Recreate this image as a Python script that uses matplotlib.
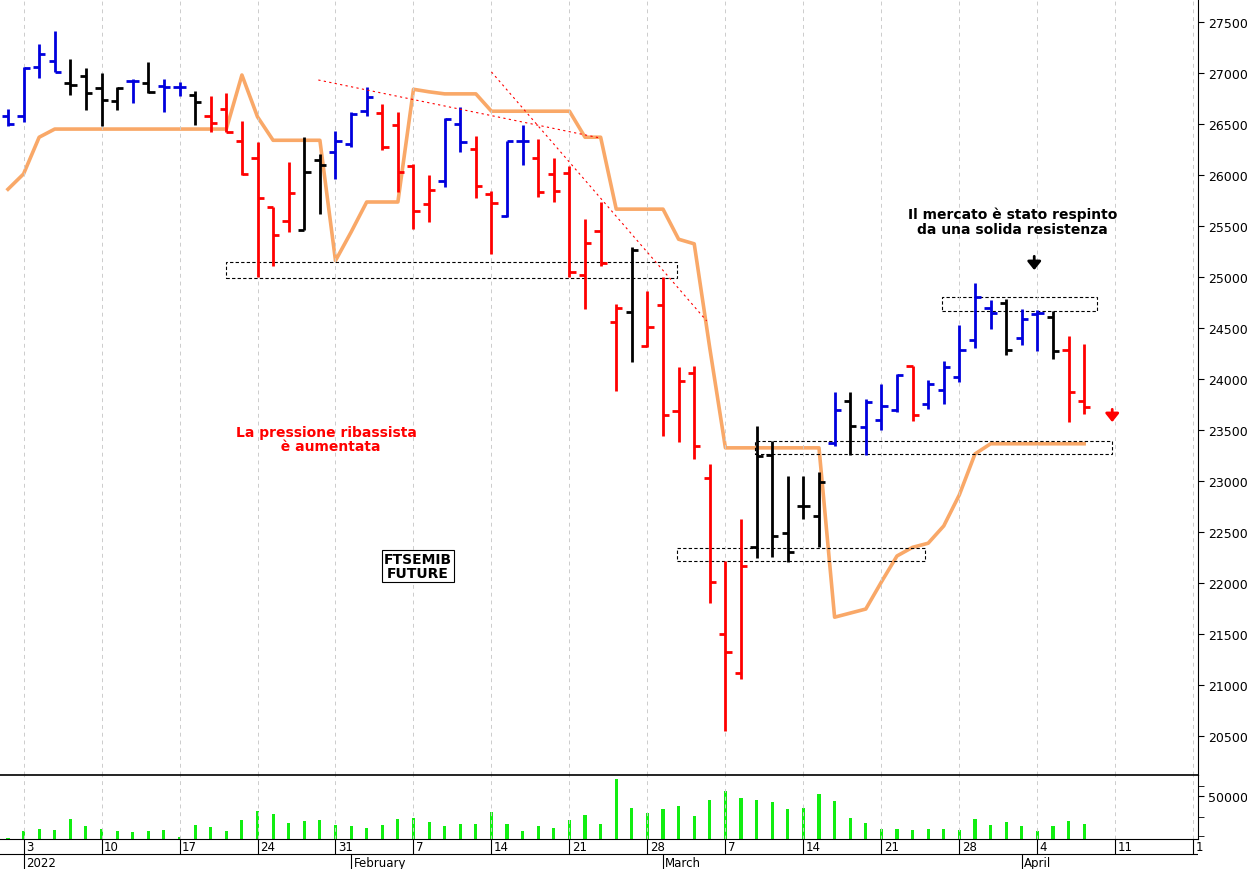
import numpy as np
import matplotlib
matplotlib.use("Agg")
from matplotlib import pyplot as plt
from matplotlib.patches import Rectangle

# OHLC per trading day, index 0 = 31 Dec 2021
opens = [26578, 26578, 27059, 27118, 26900, 26970, 26853, 26725, 26922, 26902,
         26873, 26863, 26784, 26578, 26647, 26333, 26167, 25686, 25549, 25461,
         26147, 26226, 26304, 26627, 26608, 26490, 26088, 25716, 25941, 26500,
         26255, 25814, 25598, 26333, 26167, 26010, 26020, 25020, 25451, 24559,
         24657, 24324, 24725, 23686, 24059, 23029, 21500, 21118, 22353, 23255,
         22490, 22755, 22657, 23373, 23784, 23529, 23598, 23696, 24127, 23755,
         23892, 24020, 24382, 24696, 24745, 24402, 24637, 24608, 24284, 23784]
highs = [26647, 27059, 27284, 27412, 27137, 27049, 27000, 26863, 26941, 27108,
         26941, 26912, 26824, 26775, 26804, 26529, 26323, 25686, 26128, 26373,
         26206, 26431, 26618, 26863, 26696, 26618, 26108, 26000, 26559, 26667,
         26382, 25843, 26333, 26490, 26353, 26167, 26088, 25569, 25735, 24735,
         25294, 24863, 25000, 24118, 24127, 23167, 22216, 22627, 23539, 23392,
         23049, 23049, 23088, 23873, 23873, 23804, 23951, 24049, 24127, 23990,
         24176, 24529, 24941, 24775, 24784, 24686, 24676, 24667, 24422, 24343]
lows = [26480, 26520, 26951, 27010, 26784, 26637, 26480, 26637, 26706, 26804,
        26618, 26775, 26490, 26422, 26422, 26000, 25000, 25108, 25441, 25461,
        25618, 25961, 26275, 26578, 26245, 25833, 25471, 25539, 25882, 26226,
        25775, 25225, 25588, 26098, 25784, 25735, 25000, 24686, 25108, 23882,
        24167, 24314, 23441, 23382, 23216, 21804, 20549, 21059, 22245, 22255,
        22206, 22627, 22353, 23343, 23255, 23255, 23500, 23676, 23588, 23706,
        23755, 23971, 24304, 24490, 24235, 24333, 24275, 24196, 23578, 23657]
closes = [26500, 27050, 27186, 27010, 26880, 26804, 26735, 26853, 26922, 26814,
          26863, 26863, 26716, 26510, 26422, 26010, 25775, 25412, 25824, 26030,
          26098, 26333, 26598, 26765, 26275, 26030, 25647, 25853, 26549, 26324,
          25892, 25726, 26333, 26333, 25833, 25843, 25049, 25333, 25137, 24696,
          25265, 24510, 23647, 23980, 23343, 22010, 21327, 22167, 23245, 22461,
          22304, 22755, 22990, 23696, 23539, 23775, 23735, 24039, 23647, 23951,
          24118, 24284, 24804, 24647, 24284, 24588, 24647, 24275, 23873, 23725]
bar_colors = list("bbbbkkkkbkbbkrrrrrrkkbbbrrrrbbrrbbrrrrrrkrrrrrrrkkkkkbkbbbrbbbbbkbbkrr")

stop_line = ([25860, 26010, 26370] + [26450] * 12 + [26980, 26570] + [26340] * 4 +
             [25160, 25440] + [25735] * 3 + [26840, 26815] + [26795] * 3 + [26625] * 6 +
             [26370, 26370] + [25665] * 4 + [25370, 25325, 24300] + [23325] * 7 +
             [21665, 21705, 21745, 22010, 22265, 22350, 22390, 22560, 22865, 23265] + [23365] * 7)

volume = [1200, 9300, 11600, 10500, 23300, 15100, 11600, 9300, 8100, 9300,
          10500, 2300, 16300, 14000, 9300, 22100, 32600, 29100, 18600, 20900,
          22100, 16300, 15100, 12800, 16300, 23300, 24400, 19800, 15100, 17400,
          17400, 31400, 17400, 9300, 15100, 12800, 22100, 27900, 17400, 69800,
          36000, 30200, 34900, 38400, 26700, 45300, 55800, 47700, 45300, 43000,
          34900, 36000, 52300, 44200, 24400, 18600, 11600, 11600, 10500, 11600,
          11600, 10500, 23300, 16300, 19800, 15100, 9300, 15100, 20900, 17400]

week_pos = [1, 6, 11, 16, 21, 26, 31, 36, 41, 46, 51, 56, 61, 66, 71, 76]
week_labels = ["3", "10", "17", "24", "31", "7", "14", "21", "28", "7", "14", "21", "28", "4", "11", "1"]
month_pos = [1, 22, 42, 65]
month_labels = ["2022", "February", "March", "April"]

# dashed boxes: (x0, x1, low, high)
boxes = [(13.97, 42.9, 24990, 25147), (59.9, 69.8, 24667, 24804),
         (47.9, 70.8, 23265, 23392), (42.9, 58.8, 22216, 22343)]
# red dotted trend lines
trends = [((19.9, 37.95), (26931, 26363)), ((31.0, 44.8), (27010, 24569))]

cmap = {"b": "#0000dd", "k": "black", "r": "#ff0000"}
W, H = 1247, 870
fig = plt.figure(figsize=(W / 100, H / 100), dpi=100)
xl = (-0.51, 76.3)
right = 1198 / W

ax = fig.add_axes([0, 1 - 776 / H, right, 776 / H])
axv = fig.add_axes([0, 1 - 840 / H, right, 64 / H])
axd = fig.add_axes([0, 0, right, 30 / H])

x = np.arange(len(opens))
for i in x:
    c = cmap[bar_colors[i]]
    ax.vlines(i, lows[i], highs[i], color=c, lw=2.0)
    ax.hlines(opens[i], i - 0.4, i, color=c, lw=2.0)
    ax.hlines(closes[i], i, i + 0.4, color=c, lw=2.0)
ax.plot(x, stop_line, color="#f9a868", lw=2.6, zorder=1)

for x0, x1, lo, hi in boxes:
    ax.add_patch(Rectangle((x0, lo), x1 - x0, hi - lo, fill=False, ls=(0, (3, 2)), lw=0.8, ec="black"))
for xs, ys in trends:
    ax.plot(xs, ys, color="red", ls=(0, (2, 3)), lw=0.8)

ax.set_xlim(*xl)
ax.set_ylim(20118, 27725)
ax.yaxis.tick_right()
ax.set_yticks(np.arange(20500, 27501, 500))
ax.tick_params(axis="y", labelsize=9, length=4, pad=3)
ax.set_xticks(week_pos)
ax.tick_params(axis="x", length=0, labelbottom=False)
ax.grid(axis="x", color="#cccccc", ls=(0, (4, 4)), lw=0.7)
for s in ["top", "left"]:
    ax.spines[s].set_visible(False)

ax.text(64.4, 25550, "Il mercato è stato respinto\nda una solida resistenza", ha="center", va="center",
        fontsize=10, fontweight="bold", linespacing=1.1)
ax.annotate("", xy=(65.8, 25040), xytext=(65.8, 25230),
            arrowprops=dict(arrowstyle="-|>,head_width=0.4,head_length=0.5", color="black", lw=2))
ax.annotate("", xy=(70.8, 23550), xytext=(70.8, 23730),
            arrowprops=dict(arrowstyle="-|>,head_width=0.4,head_length=0.5", color="red", lw=2))
ax.text(20.4, 23410, "La pressione ribassista\n  è aumentata", ha="center", va="center",
        fontsize=10, fontweight="bold", color="red", linespacing=1.0)
ax.text(26.3, 22170, "FTSEMIB\nFUTURE", ha="center", va="center", fontsize=10, fontweight="bold",
        linespacing=1.0, bbox=dict(boxstyle="square,pad=0.15", fc="white", ec="black", lw=0.8))

axv.bar(x, volume, width=0.2, color="#11ee11")
axv.set_xlim(*xl)
axv.set_ylim(0, 74400)
axv.yaxis.tick_right()
axv.set_yticks([50000])
axv.set_yticks([3500, 25500, 61600], minor=True)
axv.tick_params(axis="y", labelsize=9, length=4)
axv.tick_params(axis="y", which="minor", length=4)
axv.set_xticks(week_pos)
axv.tick_params(axis="x", length=0, labelbottom=False)
axv.grid(axis="x", color="#cccccc", ls=(0, (4, 4)), lw=0.7)
axv.spines["left"].set_visible(False)
axv.spines["top"].set_linewidth(1.2)

axd.set_xlim(*xl)
axd.set_ylim(0, 2)
axd.axis("off")
axd.axhline(1, color="black", lw=0.8)
for p, lab in zip(week_pos, week_labels):
    axd.vlines(p, 1, 2, color="black", lw=0.8)
    axd.text(p + 0.15, 1.5, lab, ha="left", va="center", fontsize=8.5)
for p, lab in zip(month_pos, month_labels):
    axd.vlines(p, 0, 1, color="black", lw=0.8)
    axd.text(p + 0.15, 0.45, lab, ha="left", va="center", fontsize=8.5)

fig.savefig("out.png", dpi=100)
